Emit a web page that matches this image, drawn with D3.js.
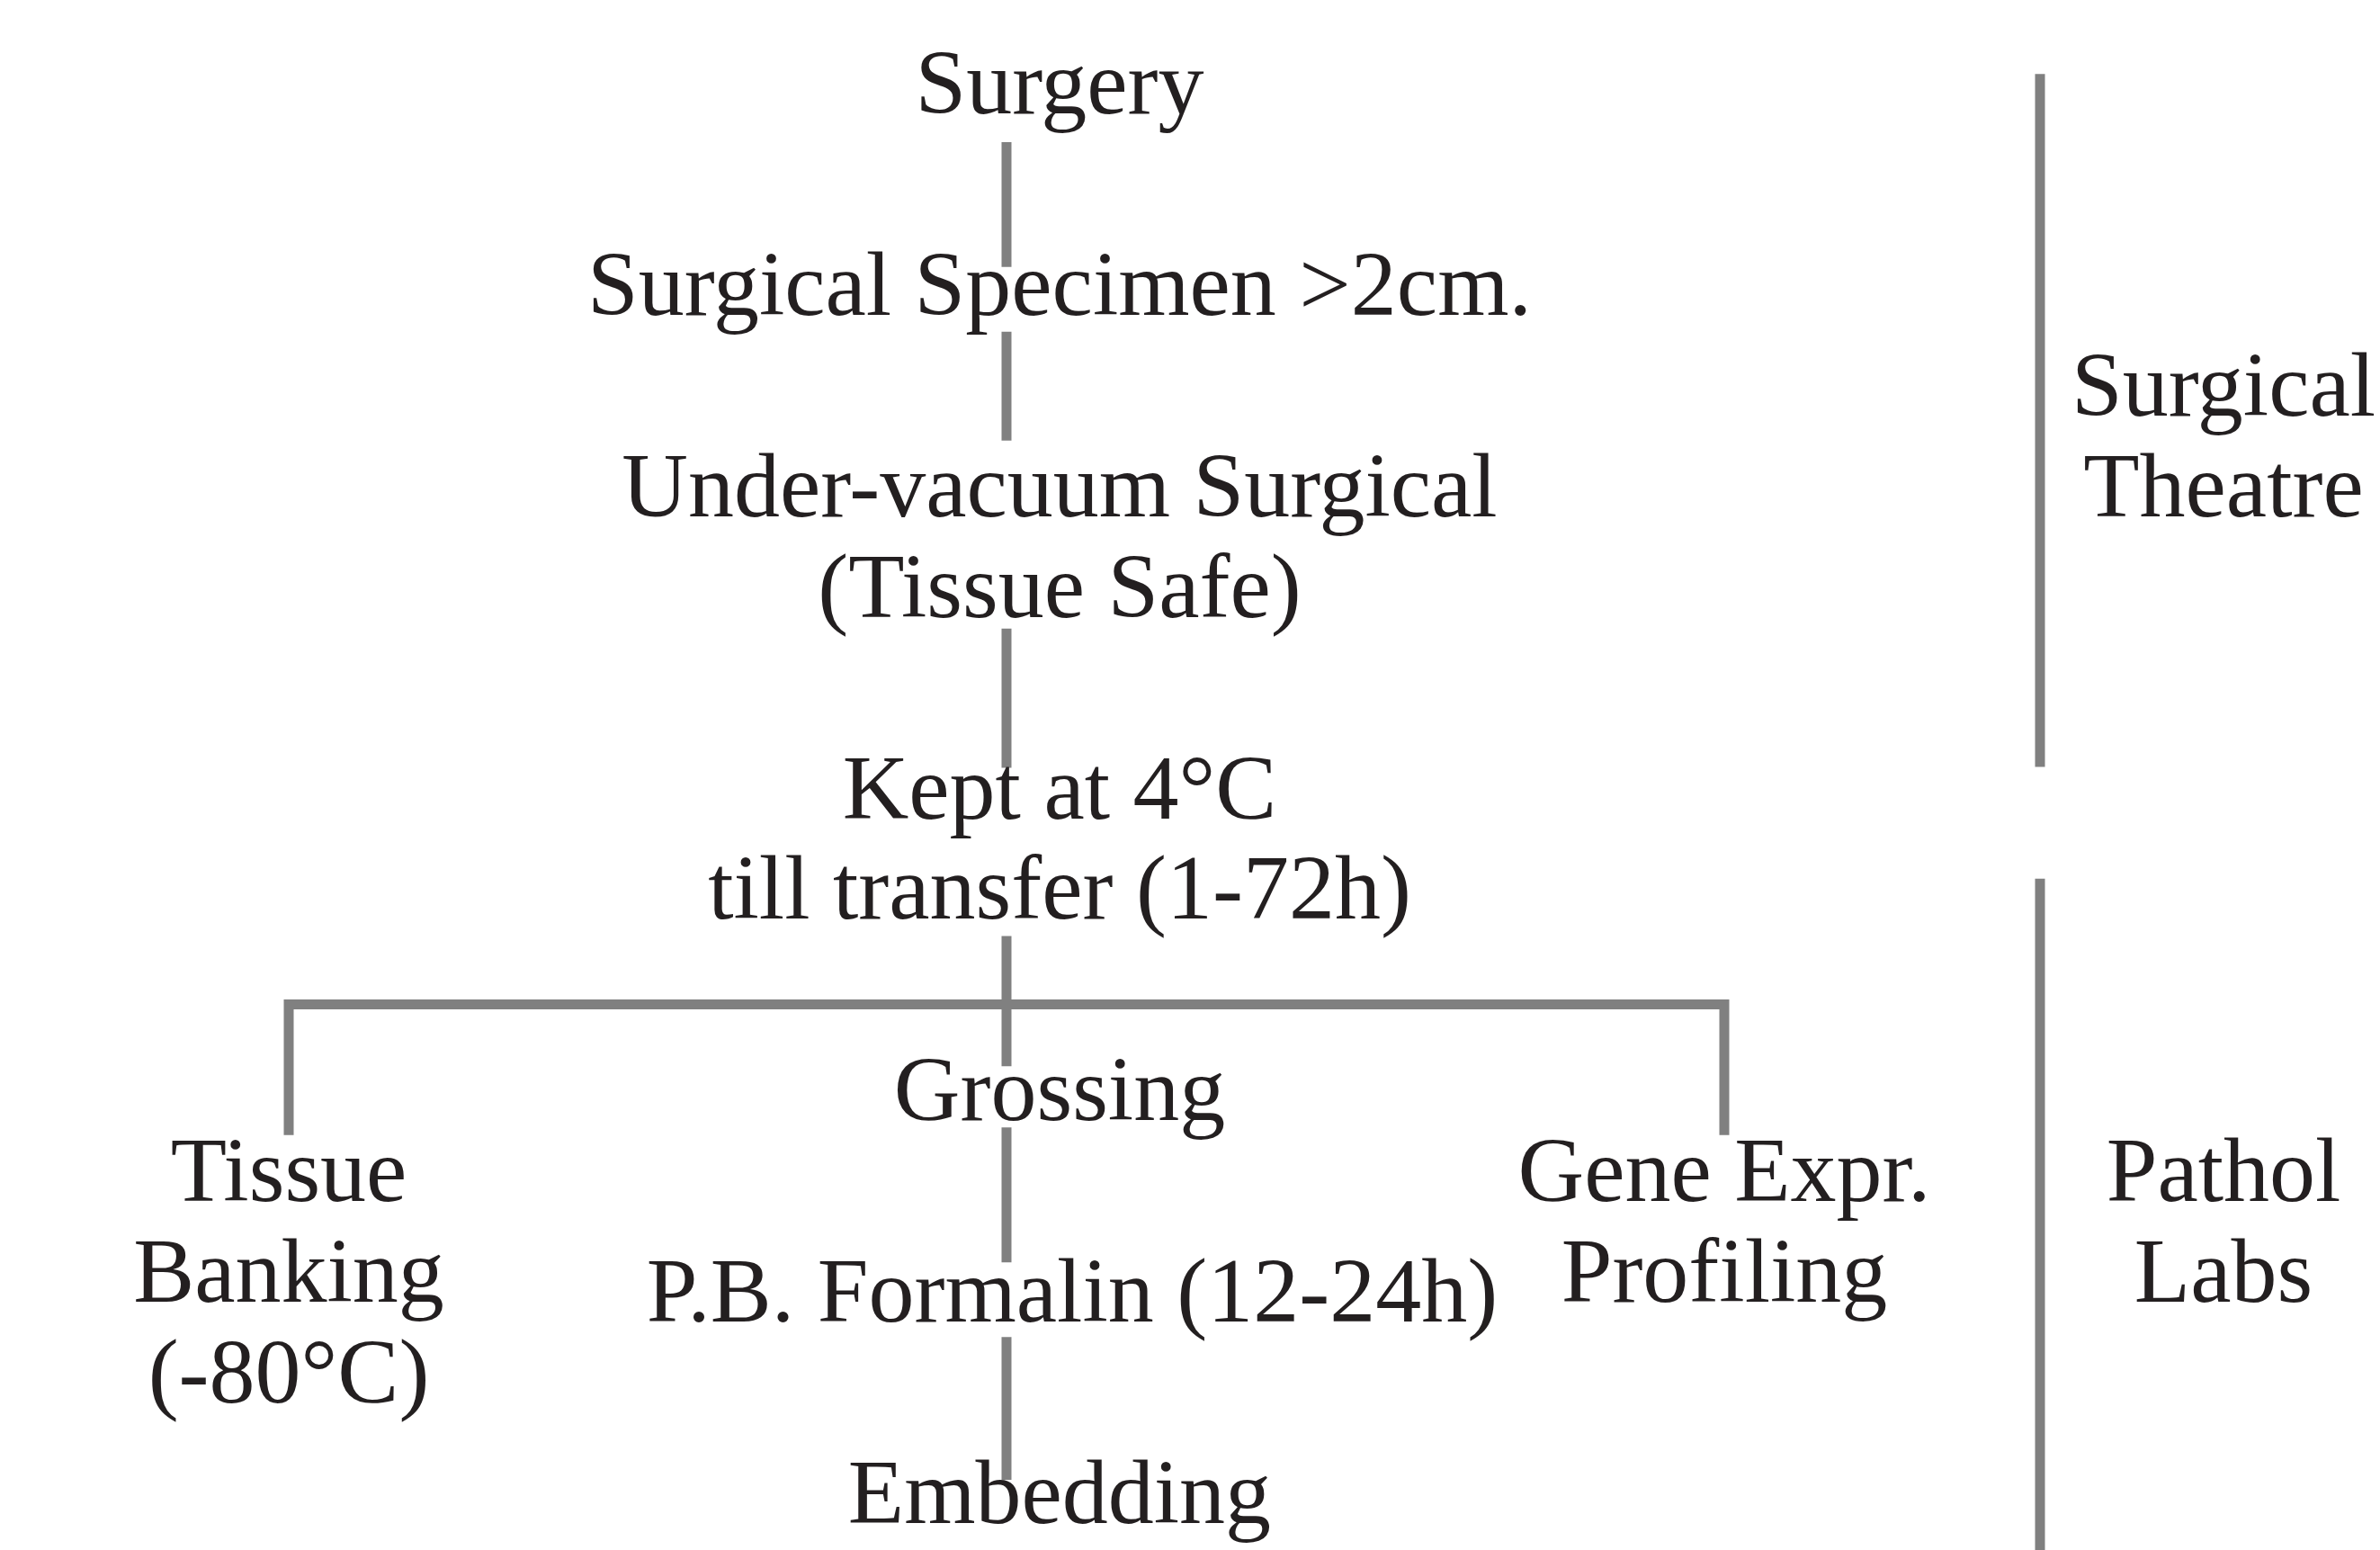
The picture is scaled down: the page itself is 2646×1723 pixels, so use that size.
<!DOCTYPE html>
<html>
<head>
<meta charset="utf-8">
<script src="https://cdn.jsdelivr.net/npm/d3@7"></script>
<style>
  html, body { margin: 0; padding: 0; background: #fff; }
  svg { display: block; }
</style>
</head>
<body>
<div id="chart"></div>
<script>
// steps down the main column (each entry = lines of one box)
const mainSteps = [
  ["Surgery"],
  ["Surgical Specimen >2cm."],
  ["Under-vacuum Surgical", "(Tissue Safe)"],
  ["Kept at 4°C", "till transfer (1-72h)"],
  ["Grossing"],
  ["P.B. Formalin (12-24h)"],
  ["Embedding"],
];
// side branches leaving after "Kept at 4°C"
const branchLabels = [
  ["Tissue", "Banking", "(-80°C)"],
  ["Gene Expr.", "Profiling"],
];
const branchKeys = ["bank", "main", "gene"];
// location phases on the right
const phaseLabels = [
  ["Surgical", "Theatre"],
  ["Pathol", "Labs"],
];

// layout (rows of text, one row = one line height)
const stepRows = [0, 2, 4, 7, 10, 12, 14];
const stepNudge = [0, 0, 0, 0, 0, 14, 0];
const branchRow = 10.8;
const splitRow = 8.85;
const phaseRows = [3, 10.8];
const phaseSpans = [[-0.39, 6.49], [7.6, 14.4]];

const W = 2646, H = 1723;
const fontSize = 102;
const lineColor = "#808080";
const textColor = "#231f20";
const strokeW = 11;

const svg = d3.select("#chart").append("svg")
  .attr("width", W).attr("height", H);
svg.append("rect").attr("width", W).attr("height", H).attr("fill", "#fff");

const y = d3.scaleLinear().domain([0, 14]).range([126, 1693]);
const x = d3.scalePoint().domain(branchKeys).range([321, 1917]);
const textShift = 59;      // main labels sit a bit right of the line
const phaseLineX = 2268, phaseTextX = 2472;

// clearance between the connector and the text above / below it
const gapBelow = [32, 19, 13, 19, 8, 17];
const gapAbove = [53, 84, 56, 60, 66, 48];

const font = (sel) => sel
  .attr("font-family", "'Liberation Serif', 'Times New Roman', Times, serif")
  .attr("font-size", fontSize)
  .attr("fill", textColor)
  .attr("text-anchor", "middle");

// main column connectors
const segs = d3.pairs(mainSteps.map((d, i) => ({ lines: d, row: stepRows[i] })));
svg.append("g").selectAll("line").data(segs).join("line")
  .attr("x1", x("main")).attr("x2", x("main"))
  .attr("y1", ([a], i) => y(a.row + a.lines.length - 1) + gapBelow[i])
  .attr("y2", ([, b], i) => y(b.row) - gapAbove[i])
  .attr("stroke", lineColor).attr("stroke-width", strokeW);

// branch bracket
const bx0 = x("bank"), bx1 = x("gene");
const by = y(splitRow), bEnd = y(branchRow) - 73;
const bracket = d3.path();
bracket.moveTo(bx0, bEnd);
bracket.lineTo(bx0, by);
bracket.lineTo(bx1, by);
bracket.lineTo(bx1, bEnd);
svg.append("path").attr("d", bracket.toString())
  .attr("fill", "none").attr("stroke", lineColor)
  .attr("stroke-width", strokeW).attr("stroke-linejoin", "miter");

// phase separators
svg.append("g").selectAll("line").data(phaseSpans).join("line")
  .attr("x1", phaseLineX).attr("x2", phaseLineX)
  .attr("y1", (d) => y(d[0])).attr("y2", (d) => Math.min(H, y(d[1])))
  .attr("stroke", lineColor).attr("stroke-width", strokeW);

// main step labels
mainSteps.forEach((lines, i) => {
  const t = svg.append("text").call(font);
  lines.forEach((s, j) => {
    t.append("tspan").attr("x", x("main") + textShift + stepNudge[i])
      .attr("y", y(stepRows[i] + j)).text(s);
  });
});

// branch labels
branchLabels.forEach((lines, i) => {
  const key = i === 0 ? "bank" : "gene";
  const t = svg.append("text").call(font);
  lines.forEach((s, j) => {
    t.append("tspan").attr("x", x(key)).attr("y", y(branchRow + j)).text(s);
  });
});

// phase labels
phaseLabels.forEach((lines, i) => {
  const t = svg.append("text").call(font);
  lines.forEach((s, j) => {
    t.append("tspan").attr("x", phaseTextX).attr("y", y(phaseRows[i] + j)).text(s);
  });
});
</script>
</body>
</html>
